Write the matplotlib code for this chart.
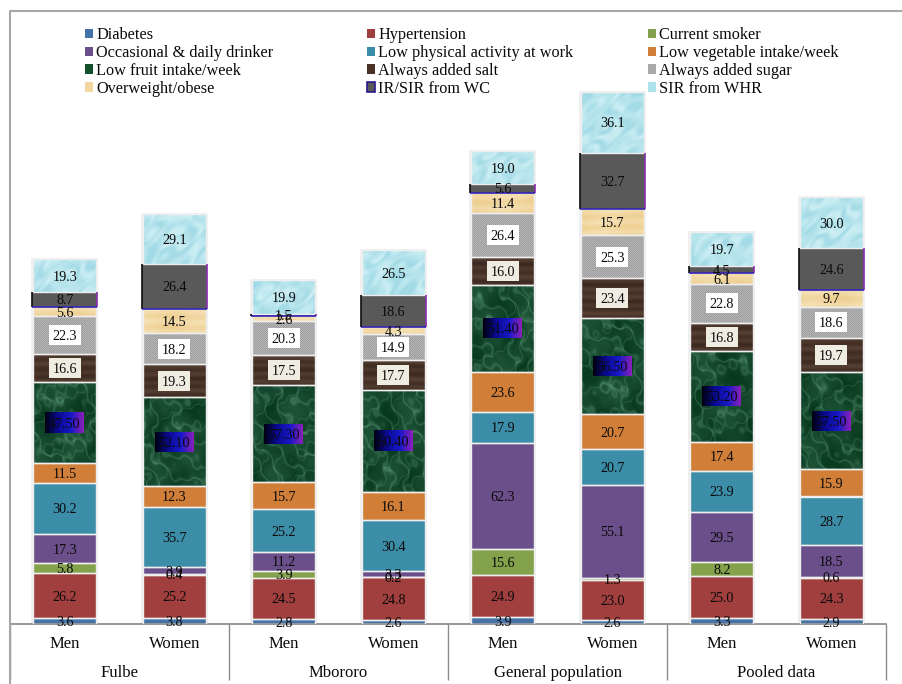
import numpy as np
import matplotlib
matplotlib.use("Agg")
import matplotlib.pyplot as plt
from matplotlib.colors import LinearSegmentedColormap, to_rgb
from matplotlib.lines import Line2D
from matplotlib.patches import Patch, Rectangle
from matplotlib.transforms import IdentityTransform

plt.rcParams['font.family'] = ['Liberation Serif', 'DejaVu Serif']

groups = ["Fulbe", "Mbororo", "General population", "Pooled data"]
sexes = ["Men", "Women"] * 4

diabetes = [3.6, 3.8, 2.8, 2.6, 3.9, 2.6, 3.3, 2.9]
hypertension = [26.2, 25.2, 24.5, 24.8, 24.9, 23.0, 25.0, 24.3]
smoker = [5.8, 0.4, 3.9, 0.2, 15.6, 1.3, 8.2, 0.6]
drinker = [17.3, 3.9, 11.2, 3.3, 62.3, 55.1, 29.5, 18.5]
low_activity = [30.2, 35.7, 25.2, 30.4, 17.9, 20.7, 23.9, 28.7]
low_vegetable = [11.5, 12.3, 15.7, 16.1, 23.6, 20.7, 17.4, 15.9]
low_fruit = [47.5, 52.1, 57.3, 60.4, 51.4, 56.5, 53.2, 57.5]
added_salt = [16.6, 19.3, 17.5, 17.7, 16.0, 23.4, 16.8, 19.7]
added_sugar = [22.3, 18.2, 20.3, 14.9, 26.4, 25.3, 22.8, 18.6]
overweight = [5.6, 14.5, 2.6, 4.3, 11.4, 15.7, 6.1, 9.7]
ir_wc = [8.7, 26.4, 1.5, 18.6, 5.6, 32.7, 4.5, 24.6]
sir_whr = [19.3, 29.1, 19.9, 26.5, 19.0, 36.1, 19.7, 30.0]

names = ["Diabetes", "Hypertension", "Current smoker",
         "Occasional & daily drinker", "Low physical activity at work",
         "Low vegetable intake/week", "Low fruit intake/week",
         "Always added salt", "Always added sugar", "Overweight/obese",
         "IR/SIR from WC", "SIR from WHR"]
series = [diabetes, hypertension, smoker, drinker, low_activity, low_vegetable,
          low_fruit, added_salt, added_sugar, overweight, ir_wc, sir_whr]
fills = ["#4573a7", "#a03f3d", "#84a14b", "#6b4f8a", "#3c8da8", "#d07e38",
         "#14502e", "#4a3228", "#a9a9a9", "#f0d7a0", "#595959", "#aee3ed"]

W, H = 903, 684
BASE_Y, LEFT, RIGHT = 624, 10, 886
PX_PER_UNIT = 1.70
BAR_PX = 63
PX_PER_CAT = (RIGHT - LEFT) / 8
bar_w = BAR_PX / PX_PER_CAT


def blend(lo, hi, t):
    lo, hi = np.array(to_rgb(lo)), np.array(to_rgb(hi))
    return lo + (hi - lo) * np.clip(t, 0, 1)[..., None]


def marble(w, h, p):
    y, x = np.mgrid[0:h, 0:w].astype(float)
    warp = (1.3 * np.sin(y / 17 + p) + 1.2 * np.sin(x / 13 - 1.3 * p)
            + 0.7 * np.sin((x + 2 * y) / 9 + p) + 0.35 * np.sin((2.3 * x - y) / 5 + 2 * p))
    streak = np.exp(-(np.sin((x - 0.8 * y) / 8 + warp) / 0.3) ** 2)
    cross = np.exp(-(np.sin((x + 0.6 * y) / 10 + 1.1 * warp + p) / 0.22) ** 2)
    cloud = 0.5 + 0.25 * np.sin(x / 11 + y / 14 + warp) + 0.2 * np.sin(y / 19 - x / 7 + p)
    return blend("#07381d", "#5f9d7d", 0.28 * cloud + 0.3 * streak + 0.22 * cross)


def water(w, h, p):
    y, x = np.mgrid[0:h, 0:w].astype(float)
    warp = 1.5 * np.sin(y / 7 + p) + 1.3 * np.sin(x / 6 - p) + 0.8 * np.sin((x + y) / 3.3 + p)
    r = np.sin(np.hypot(x - 0.4 * w, y - 0.6 * h) / 4 + warp)
    s = np.sin(x / 5 + y / 4 + 1.5 * warp)
    return blend("#9bd7e4", "#cdeff4", 0.55 + 0.22 * r + 0.2 * s)


def wood(w, h, p):
    y, x = np.mgrid[0:h, 0:w].astype(float)
    t = np.sin(y / 1.3 + 0.4 * np.sin(x / 21 + p)) + 0.6 * np.sin(y / 3.1 + p)
    return blend("#3a261d", "#584236", 0.5 + 0.26 * t)


def dither(w, h, p):
    y, x = np.mgrid[0:h, 0:w]
    return blend("#9d9d9d", "#b6b6b6", ((x + y) % 2).astype(float))


def paper(w, h, p):
    y, x = np.mgrid[0:h, 0:w].astype(float)
    t = np.sin(y / 1.7 + 0.4 * np.sin(x / 15 + p)) + 0.7 * np.sin(x / 9 + y / 25 + p)
    return blend("#eed093", "#f5e0b2", 0.5 + 0.3 * t)


textures = {6: marble, 7: wood, 8: dither, 9: paper, 11: water}
grad_cmap = LinearSegmentedColormap.from_list(
    "label_grad", ["#000010", "#0a0a90", "#1818c8", "#8a20b8"])

fig = plt.figure(figsize=(W / 100, H / 100), dpi=100)
ax = fig.add_axes([LEFT / W, (H - BASE_Y) / H, (RIGHT - LEFT) / W, BASE_Y / H])
ax.set_xlim(-0.5, 7.5)
ax.set_ylim(0, BASE_Y / PX_PER_UNIT)

x = np.arange(8)
bottom = np.zeros(8)
totals = np.sum(series, axis=0)
ax.bar(x, totals + 0.6, width=(BAR_PX + 4) / PX_PER_CAT, color="#f0f0f0", zorder=1)

for i, (vals, col) in enumerate(zip(series, fills)):
    vals = np.asarray(vals)
    wide = bar_w + (2 / PX_PER_CAT if i == 10 else 0)
    bars = ax.bar(x, vals, wide, bottom=bottom, color=col, zorder=2)
    if i in textures:
        for j, b in enumerate(bars):
            px_h = max(int(round(vals[j] * PX_PER_UNIT)), 1)
            im = ax.imshow(textures[i](BAR_PX, px_h, 0.9 * j + 0.7 * i),
                           extent=(j - bar_w / 2, j + bar_w / 2, bottom[j], bottom[j] + vals[j]),
                           aspect="auto", interpolation="nearest", zorder=3)
            im.set_clip_path(b)
    if i == 10:
        lx, rx = x - wide / 2, x + wide / 2
        ax.vlines(lx, bottom, bottom + vals, color="#101010", lw=1.2, zorder=5)
        ax.vlines(rx, bottom, bottom + vals, color="#8a30b0", lw=1.2, zorder=5)
        ax.hlines(bottom, lx, rx, color="#3020b0", lw=1.2, zorder=5)
    else:
        ax.bar(x, vals, bar_w, bottom=bottom, fill=False, edgecolor="#efefef", lw=1.0, zorder=4)

    for j, v in enumerate(vals):
        yc = bottom[j] + v / 2
        box_kw = dict(transform=ax.transData, zorder=6)
        if i == 6:
            bw, bh = 39 / PX_PER_CAT, 20 / PX_PER_UNIT
            ax.imshow(np.linspace(0, 1, 64)[None, :], cmap=grad_cmap, aspect="auto",
                      extent=(j - bw / 2, j + bw / 2, yc - bh / 2, yc + bh / 2), zorder=6)
            txt = f"{v:.2f}"
        else:
            txt = f"{v:.1f}"
            if i in (7, 8):
                bw, bh = 32 / PX_PER_CAT, 20 / PX_PER_UNIT
                ax.add_patch(Rectangle((j - bw / 2, yc - bh / 2), bw, bh, lw=0,
                                       facecolor="#efece2" if i == 7 else "white", **box_kw))
        ax.text(j, yc, txt, ha="center", va="center_baseline", fontsize=10.2,
                color="#0a0a0a", zorder=7, clip_on=False)
    bottom = bottom + vals

ax.set_xlim(-0.5, 7.5)
ax.set_ylim(0, BASE_Y / PX_PER_UNIT)

# Two-level category axis: sex labels on ticks, population groups beneath them
for s in ("top", "right", "left"):
    ax.spines[s].set_visible(False)
ax.spines["bottom"].set_color("#868686")
ax.spines["bottom"].set_linewidth(1.2)
ax.set_axisbelow(False)
ax.set_yticks([])
ax.set_xticks(x)
ax.set_xticklabels(sexes, fontsize=12, color="#0a0a0a")
ax.tick_params(axis="x", which="major", length=0, pad=8.5)
ax.set_xticks(np.arange(-0.5, 8, 2), minor=True)
ax.tick_params(axis="x", which="minor", length=40, width=1, color="#8c8c8c")
for k, g in enumerate(groups):
    ax.annotate(g, (2 * k + 0.5, 0), xycoords=("data", "axes fraction"), xytext=(0, -35.5),
                textcoords="offset points", ha="center", va="center", fontsize=12, color="#0a0a0a",
                annotation_clip=False)

# Outer chart frame
fig.add_artist(Line2D([10 / W, 10 / W, 1], [0, 1 - 11 / H, 1 - 11 / H], color="#a6a6a6", lw=1.5))

# Three legend columns, placed by pixel position
handles = []
for i, (n, c) in enumerate(zip(names, fills)):
    if i == 10:
        handles.append(Patch(facecolor=c, edgecolor="#2a1890", lw=1.2, label=n))
    else:
        handles.append(Patch(facecolor=c, edgecolor="none", label=n))
for col, px in enumerate((85, 367, 648)):
    fig.legend(handles=handles[col::3], loc="upper left",
               bbox_to_anchor=(px, H - 27), bbox_transform=IdentityTransform(),
               frameon=False, fontsize=11.7, borderpad=0, borderaxespad=0,
               handlelength=0.5, handleheight=0.5, handletextpad=0.2,
               labelspacing=0.12, labelcolor="#0a0a0a")

fig.savefig("out.png", dpi=100, facecolor="white")
